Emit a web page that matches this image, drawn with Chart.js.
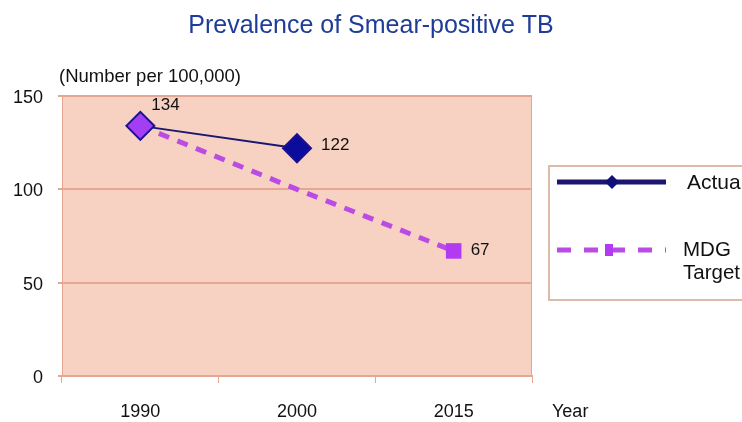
<!DOCTYPE html>
<html lang="en">
<head>
    <meta charset="UTF-8">
    <title>Prevalence of Smear-positive TB</title>
    <style>
        html, body { margin: 0; padding: 0; background: #ffffff; }
        canvas { display: block; }
    </style>
</head>
<body>
    <canvas id="tbChart" width="742" height="422"></canvas>

    <script src="https://cdn.jsdelivr.net/npm/chart.js@4/dist/chart.umd.min.js"></script>
    <script>
        // chart data
        var years = ['1990', '2000', '2015'];
        var actualValues = [134, 122, null];
        var targetValues = [134, 100, 67];
        var yTicks = [0, 50, 100, 150];

        var FONT = '"Liberation Sans", Arial, sans-serif';
        var gridColor = '#E6A792';

        // plot background, border, titles, value labels and legend
        var decorations = {
            id: 'decorations',
            beforeDraw: function(chart) {
                var ctx = chart.ctx, a = chart.chartArea;
                ctx.save();
                ctx.fillStyle = '#F7D2C3';
                ctx.fillRect(a.left, a.top, a.right - a.left, a.bottom - a.top);
                ctx.restore();
            },
            afterDatasetsDraw: function(chart) {
                var ctx = chart.ctx, a = chart.chartArea;
                ctx.save();
                // plot frame
                ctx.strokeStyle = gridColor;
                ctx.lineWidth = 1;
                ctx.strokeRect(a.left + 0.5, a.top + 0.5, a.right - a.left - 1, a.bottom - a.top);

                // title
                ctx.fillStyle = '#1F3C98';
                ctx.font = '25px ' + FONT;
                ctx.textAlign = 'center';
                ctx.textBaseline = 'middle';
                ctx.fillText('Prevalence of Smear-positive TB', 371, 26);

                ctx.fillStyle = '#111111';
                ctx.font = '18.5px ' + FONT;
                ctx.textAlign = 'left';
                ctx.fillText('(Number per 100,000)', 59, 77);
                ctx.font = '18px ' + FONT;
                ctx.fillText('Year', 552, 412);

                // value labels
                var act = chart.getDatasetMeta(0).data;
                var tgt = chart.getDatasetMeta(1).data;
                ctx.font = '17px ' + FONT;
                ctx.fillText(String(actualValues[0]), act[0].x + 11, act[0].y - 21);
                ctx.fillText(String(actualValues[1]), act[1].x + 24, act[1].y - 3);
                ctx.fillText(String(targetValues[2]), tgt[2].x + 17, tgt[2].y - 1);

                // legend
                var lx = 548, ly = 165;
                ctx.fillStyle = '#ffffff';
                ctx.fillRect(lx, ly, 220, 135);
                ctx.strokeStyle = '#DDBBAA';
                ctx.lineWidth = 2;
                ctx.strokeRect(lx + 1, ly + 1, 220, 134);

                var ds = chart.data.datasets;
                ctx.strokeStyle = ds[0].borderColor;
                ctx.lineWidth = 5;
                ctx.beginPath();
                ctx.moveTo(557, 182);
                ctx.lineTo(666, 182);
                ctx.stroke();
                ctx.fillStyle = '#101078';
                ctx.beginPath();
                ctx.moveTo(612, 175); ctx.lineTo(619, 182); ctx.lineTo(612, 189); ctx.lineTo(605, 182);
                ctx.closePath();
                ctx.fill();

                ctx.strokeStyle = ds[1].borderColor;
                ctx.lineWidth = 5;
                ctx.setLineDash([14, 13]);
                ctx.beginPath();
                ctx.moveTo(557, 250);
                ctx.lineTo(666, 250);
                ctx.stroke();
                ctx.setLineDash([]);
                ctx.fillStyle = '#B23AF0';
                ctx.fillRect(605, 244, 8, 12);

                ctx.fillStyle = '#111111';
                ctx.font = '21px ' + FONT;
                ctx.fillText(ds[0].label, 687, 183);
                var parts = ds[1].label.split(' ');
                ctx.font = '20.5px ' + FONT;
                ctx.fillText(parts[0], 683, 250);
                ctx.fillText(parts[1], 683, 273);
                ctx.restore();
            }
        };

        var ctx = document.getElementById('tbChart').getContext('2d');
        var chart = new Chart(ctx, {
            type: 'line',
            data: {
                labels: years,
                datasets: [
                    {
                        label: 'Actual',
                        data: actualValues,
                        borderColor: '#1C1670',
                        borderWidth: 2,
                        pointStyle: 'rectRot',
                        pointRadius: 14,
                        pointBorderWidth: 2,
                        pointBorderColor: '#1A1090',
                        pointBackgroundColor: ['#A43EF2', '#0C0C9C', '#0C0C9C'],
                        fill: false,
                        tension: 0
                    },
                    {
                        label: 'MDG Target',
                        data: targetValues,
                        borderColor: '#BA4CE4',
                        borderWidth: 5,
                        borderDash: [11, 9],
                        pointStyle: 'rect',
                        pointRadius: [0, 0, 11],
                        pointBorderWidth: 0,
                        pointBackgroundColor: '#B23AF0',
                        fill: false,
                        tension: 0
                    }
                ]
            },
            options: {
                responsive: false,
                animation: false,
                layout: { padding: { left: 0, top: 96, right: 210, bottom: 0 } },
                plugins: {
                    legend: { display: false },
                    title: { display: false },
                    tooltip: { enabled: false }
                },
                scales: {
                    x: {
                        offset: true,
                        grid: {
                            offset: true,
                            drawOnChartArea: false,
                            tickLength: 7,
                            color: gridColor
                        },
                        border: { color: gridColor, width: 2 },
                        ticks: {
                            color: '#111111',
                            font: { family: FONT, size: 18 },
                            padding: 18,
                            maxRotation: 0
                        },
                        afterFit: function(scale) { scale.height = 46; }
                    },
                    y: {
                        min: yTicks[0],
                        max: yTicks[yTicks.length - 1],
                        afterBuildTicks: function(scale) {
                            scale.ticks = yTicks.map(function(v) { return { value: v }; });
                        },
                        grid: {
                            color: gridColor,
                            lineWidth: 2,
                            tickLength: 4
                        },
                        border: { display: false },
                        ticks: {
                            color: '#111111',
                            font: { family: FONT, size: 18 },
                            padding: 15,
                            labelOffset: 2
                        },
                        afterFit: function(scale) { scale.width = 62; }
                    }
                }
            },
            plugins: [decorations]
        });
    </script>
</body>
</html>
